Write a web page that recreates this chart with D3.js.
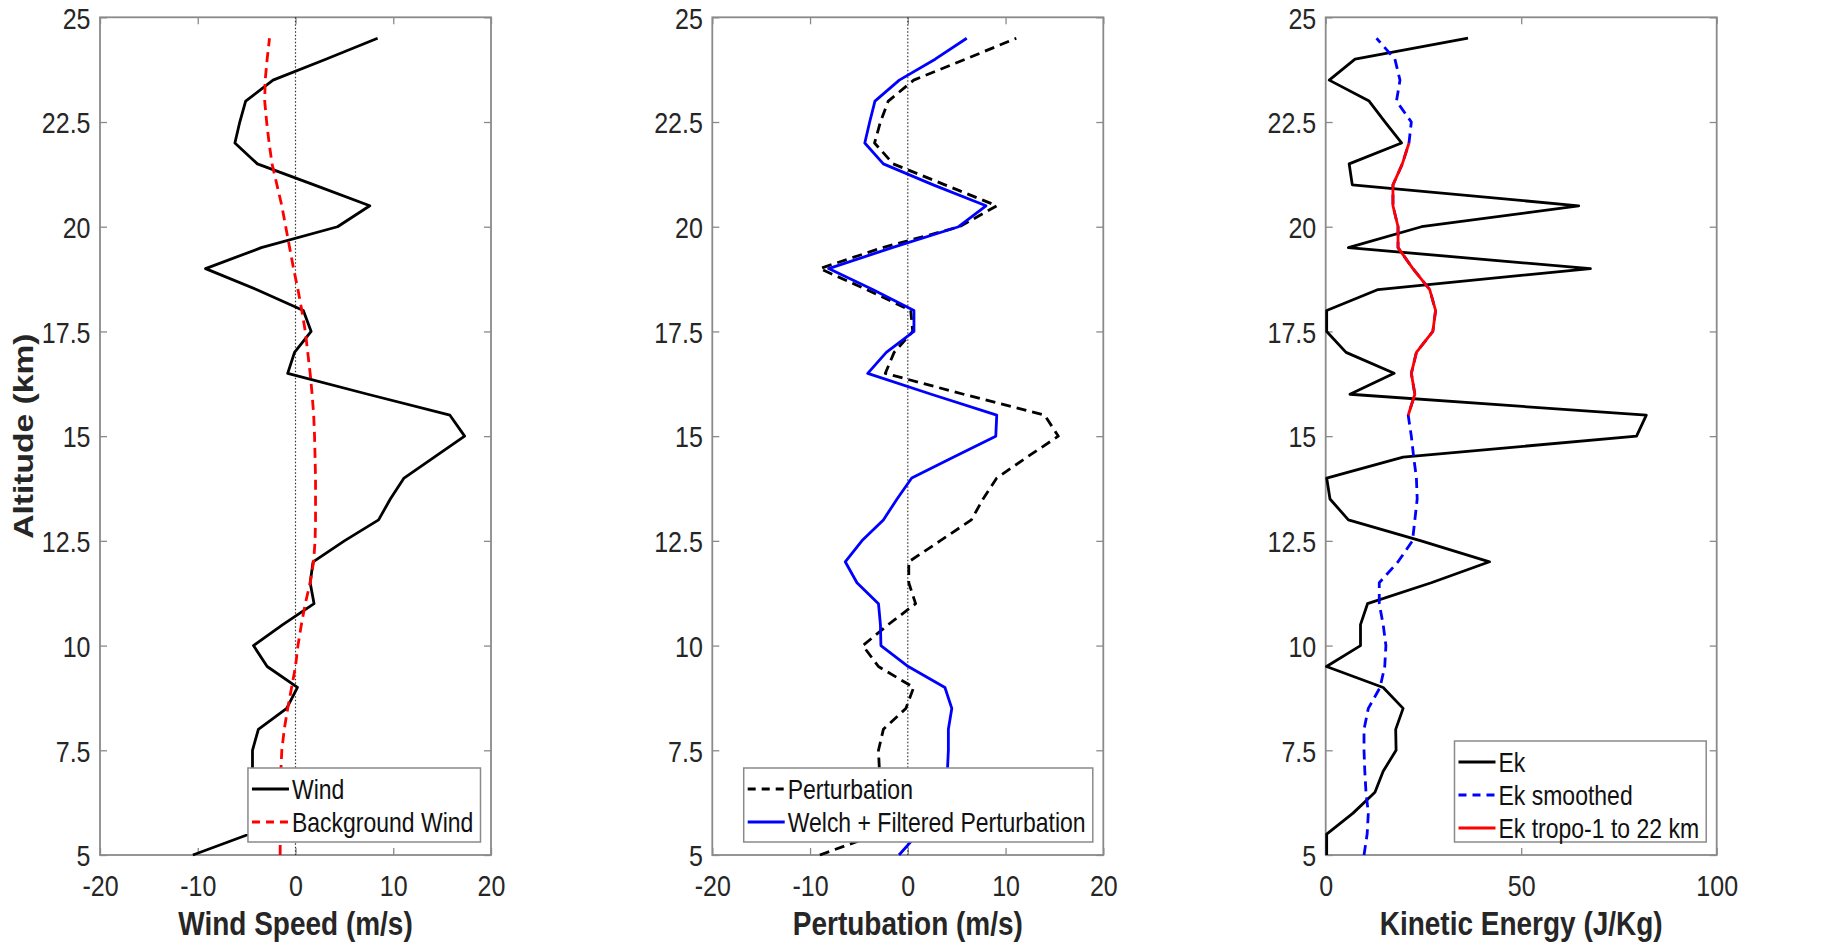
<!DOCTYPE html>
<html>
<head>
<meta charset="utf-8">
<script src="https://cdn.jsdelivr.net/npm/d3@7"></script>
<style>
  html, body { margin: 0; padding: 0; background: #fff; }
  svg { display: block; }
  text { font-family: "Liberation Sans", Arial, Helvetica, sans-serif; }
</style>
</head>
<body>
<svg id="chart" width="1840" height="950"></svg>
<script>
// ---------------- DATA ----------------
const altitude = [5, 5.5, 6, 6.5, 7, 7.5, 8, 8.5, 9, 9.5, 10, 10.5, 11, 11.5, 12, 12.5, 13, 13.5, 14, 14.5,
                  15, 15.5, 16, 16.5, 17, 17.5, 18, 18.5, 19, 19.5, 20, 20.5, 21, 21.5, 22, 22.5, 23, 23.5, 24, 24.5];

const wind = [-10.5, -4.7, -4.6, -4.5, -4.4, -4.4, -3.8, -0.9, 0.2, -2.9, -4.3, -1.3, 1.9, 1.5, 1.8, 5.0, 8.5, 9.7, 11.1, 14.2,
              17.3, 15.8, 7.4, -0.8, -0.1, 1.6, 0.8, -4.0, -9.2, -3.5, 4.3, 7.6, 1.9, -3.9, -6.2, -5.7, -5.1, -2.3, 3.1, 8.4];

const backgroundWind = [-1.57, -1.56, -1.55, -1.53, -1.5, -1.4, -1.15, -0.8, -0.4, 0.0, 0.25, 0.6, 1.0, 1.5, 1.85, 2.0, 2.05, 2.05, 2.05, 2.0,
                        1.95, 1.86, 1.7, 1.5, 1.25, 1.0, 0.65, 0.25, -0.2, -0.6, -1.0, -1.4, -1.9, -2.4, -2.7, -2.95, -3.15, -3.1, -2.9, -2.66];

const perturbation = [-9.0, -3.1, -3.0, -3.0, -2.9, -3.0, -2.5, -0.2, 0.6, -3.0, -4.6, -2.0, 0.8, 0.1, 0.1, 3.3, 6.5, 7.7, 9.1, 12.2,
                      15.4, 14.0, 5.7, -2.3, -1.4, 0.5, 0.3, -4.2, -9.0, -2.6, 5.3, 9.1, 3.8, -1.5, -3.4, -2.8, -2.0, 0.6, 5.9, 11.1];

const filteredPerturbation = [-0.9, 1.0, 2.5, 3.5, 4.05, 4.15, 4.15, 4.5, 3.8, 0.05, -2.75, -2.8, -3.0, -5.2, -6.4, -4.7, -2.5, -1.1, 0.4, 4.7,
                              9.0, 9.1, 2.4, -4.1, -2.2, 0.63, 0.63, -3.6, -8.1, -1.6, 5.2, 8.0, 2.6, -2.5, -4.4, -3.9, -3.36, -0.87, 2.8, 6.03];

const ek = [0.25, 0.25, 7.0, 12.6, 14.7, 18.0, 17.9, 19.8, 14.7, 0.2, 8.9, 8.9, 10.7, 27.0, 41.9, 24.4, 5.8, 1.1, 0.25, 19.8,
            79.5, 82.0, 6.2, 17.5, 5.2, 0.25, 0.25, 13.4, 67.7, 5.8, 24.5, 64.7, 6.8, 6.0, 19.4, 15.2, 11.1, 0.9, 7.5, 36.4];

const ekSmoothed = [9.8, 10.6, 10.9, 10.3, 10.0, 9.8, 9.8, 10.9, 13.9, 15.1, 15.4, 14.7, 13.7, 13.7, 18.5, 22.2, 22.8, 23.4, 23.2, 22.5,
                    21.9, 21.1, 22.8, 21.9, 23.2, 27.4, 28.1, 26.6, 22.3, 18.5, 18.5, 17.2, 17.2, 19.6, 21.3, 21.9, 18.1, 19.0, 17.7, 13.0];

const tropoAltitude = [15.5, 16, 16.5, 17, 17.5, 18, 18.5, 19, 19.5, 20, 20.5, 21, 21.5, 22];
const ekTropo = [21.1, 22.8, 21.9, 23.2, 27.4, 28.1, 26.6, 22.3, 18.5, 18.5, 17.2, 17.2, 19.6, 21.3];

const altTicks = [5, 7.5, 10, 12.5, 15, 17.5, 20, 22.5, 25];
const windTicks = [-20, -10, 0, 10, 20];
const ekTicks = [0, 50, 100];

const xLabels = ["Wind Speed (m/s)", "Pertubation (m/s)", "Kinetic Energy (J/Kg)"];
const yLabel = "Altitude (km)";
const legend1 = ["Wind", "Background Wind"];
const legend2 = ["Perturbation", "Welch + Filtered Perturbation"];
const legend3 = ["Ek", "Ek smoothed", "Ek tropo-1 to 22 km"];

// ---------------- LAYOUT ----------------
const svg = d3.select("#chart");
const TOP = 17.3, BOTTOM = 855, W = 391;
const SY = 1.2;             // vertical text stretch of the reference
const AXIS_COLOR = "#8a8a8a";
const TEXT_COLOR = "#262626";
const LW = 2.8;

const y = d3.scaleLinear().domain([5, 25]).range([BOTTOM, TOP]);

const panels = [
  { left: 100,    domain: [-20, 20], ticks: windTicks, zero: true },
  { left: 712.3,  domain: [-20, 20], ticks: windTicks, zero: true },
  { left: 1325.7, domain: [0, 100],  ticks: ekTicks,   zero: false }
];

const fmt = d => String(d);

panels.forEach((p, i) => {
  p.x = d3.scaleLinear().domain(p.domain).range([p.left, p.left + W]);
  const g = svg.append("g");
  p.g = g;

  const bottom = g.append("g").attr("transform", `translate(0,${BOTTOM})`)
    .call(d3.axisBottom(p.x).tickValues(p.ticks).tickSize(-7).tickFormat(fmt));
  const top = g.append("g").attr("transform", `translate(0,${TOP})`)
    .call(d3.axisTop(p.x).tickValues(p.ticks).tickSize(-7).tickFormat(""));
  const left = g.append("g").attr("transform", `translate(${p.left},0)`)
    .call(d3.axisLeft(y).tickValues(altTicks).tickSize(-7).tickFormat(fmt));
  const right = g.append("g").attr("transform", `translate(${p.left + W},0)`)
    .call(d3.axisRight(y).tickValues(altTicks).tickSize(-7).tickFormat(""));

  [bottom, top, left, right].forEach(a => {
    a.select(".domain").remove();
    a.selectAll(".tick line").attr("stroke", AXIS_COLOR).attr("stroke-width", 1.3);
    a.attr("font-family", null).attr("font-size", null);
  });
  bottom.selectAll(".tick text")
    .attr("y", null).attr("dy", null)
    .attr("transform", `translate(0,41) scale(1,${SY})`)
    .attr("fill", TEXT_COLOR).attr("font-size", 25)
    .attr("text-anchor", "middle");
  left.selectAll(".tick text")
    .attr("x", null).attr("dy", "0.36em")
    .attr("transform", `translate(-9.5,0) scale(1,${SY})`)
    .attr("fill", TEXT_COLOR).attr("font-size", 25)
    .attr("text-anchor", "end");
  top.selectAll(".tick text").remove();
  right.selectAll(".tick text").remove();

  g.append("rect")
    .attr("x", p.left).attr("y", TOP)
    .attr("width", W).attr("height", BOTTOM - TOP)
    .attr("fill", "none").attr("stroke", AXIS_COLOR).attr("stroke-width", 1.8);

  if (p.zero) {
    g.append("line")
      .attr("x1", p.x(0)).attr("x2", p.x(0))
      .attr("y1", TOP).attr("y2", BOTTOM)
      .attr("stroke", "#333").attr("stroke-width", 1.2)
      .attr("stroke-dasharray", "1.5,2");
  }

  g.append("text")
    .attr("transform", `translate(${p.left + W / 2},935) scale(1,${SY})`)
    .attr("text-anchor", "middle")
    .attr("font-size", 28).attr("font-weight", "bold")
    .attr("fill", TEXT_COLOR)
    .text(xLabels[i]);
});

svg.append("text")
  .attr("transform", `translate(33,${(TOP + BOTTOM) / 2}) scale(1,${SY}) rotate(-90)`)
  .attr("text-anchor", "middle")
  .attr("font-size", 28).attr("font-weight", "bold")
  .attr("fill", TEXT_COLOR)
  .text(yLabel);

// ---------------- SERIES ----------------
function drawLine(p, alts, vals, color, dash) {
  const line = d3.line().x((d, k) => p.x(vals[k])).y(d => y(d));
  p.g.append("path")
    .datum(alts)
    .attr("d", line)
    .attr("fill", "none")
    .attr("stroke", color)
    .attr("stroke-width", LW)
    .attr("stroke-linejoin", "round")
    .attr("stroke-dasharray", dash || null);
}

const DASH = "10,6";
drawLine(panels[0], altitude, wind, "#000", null);
drawLine(panels[0], altitude, backgroundWind, "#ff0000", DASH);

drawLine(panels[1], altitude, perturbation, "#000", DASH);
drawLine(panels[1], altitude, filteredPerturbation, "#0000ff", null);

drawLine(panels[2], altitude, ek, "#000", null);
drawLine(panels[2], altitude, ekSmoothed, "#0000ff", DASH);
drawLine(panels[2], tropoAltitude, ekTropo, "#ff0000", null);

// ---------------- LEGENDS ----------------
function legend(p, items, styles, boxTop) {
  const rowH = 33;
  const boxBottom = 842;
  const g = svg.append("g");
  const rect = g.append("rect");
  const texts = [];
  const firstRow = boxTop + 21;
  let maxW = 0;
  items.forEach((t) => {
    const tx = g.append("text")
      .attr("font-size", 23)
      .attr("fill", "#111")
      .attr("dy", "0.36em")
      .text(t);
    maxW = Math.max(maxW, tx.node().getComputedTextLength());
    texts.push(tx);
  });
  const right = p.left + W - 10.5;
  const boxW = 44 + maxW + 7;
  const left = right - boxW;
  rect.attr("x", left).attr("y", boxTop)
    .attr("width", boxW).attr("height", boxBottom - boxTop)
    .attr("fill", "#fff").attr("stroke", AXIS_COLOR).attr("stroke-width", 1.5);
  items.forEach((t, k) => {
    const cy = firstRow + k * rowH;
    g.append("line")
      .attr("x1", left + 4).attr("x2", left + 41)
      .attr("y1", cy).attr("y2", cy)
      .attr("stroke", styles[k].color).attr("stroke-width", LW)
      .attr("stroke-dasharray", styles[k].dash || null);
    texts[k].attr("transform", `translate(${left + 44},${cy}) scale(1,${SY})`);
  });
}

legend(panels[0], legend1, [{ color: "#000" }, { color: "#ff0000", dash: "8,6" }], 768);
legend(panels[1], legend2, [{ color: "#000", dash: "8,6" }, { color: "#0000ff" }], 768);
legend(panels[2], legend3, [{ color: "#000" }, { color: "#0000ff", dash: "8,6" }, { color: "#ff0000" }], 741);
</script>
</body>
</html>
